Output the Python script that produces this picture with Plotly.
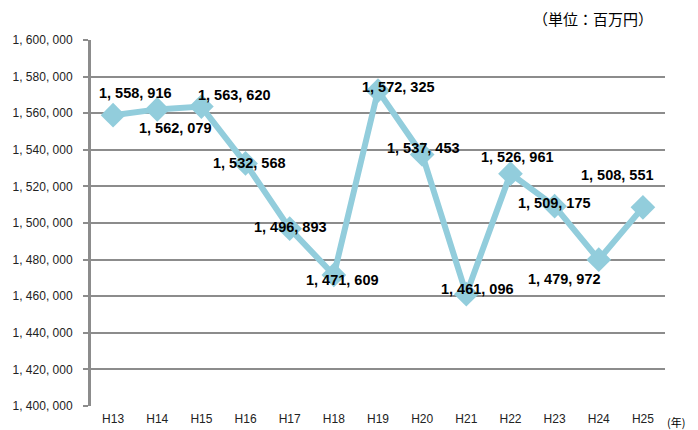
import plotly.graph_objects as go

years = ["H13", "H14", "H15", "H16", "H17", "H18", "H19",
         "H20", "H21", "H22", "H23", "H24", "H25"]
amounts = [1558916, 1562079, 1563620, 1532568, 1496893, 1471609, 1572325,
           1537453, 1461096, 1526961, 1509175, 1479972, 1508551]
tick_values = list(range(1400000, 1600001, 20000))

# label placement offsets (px) relative to each point
label_offsets = [(22, -22), (18, 19), (33, -12), (4, 0), (1, -2), (9, 5), (20, -4),
                 (1, -6), (11, -5), (7, -17), (0, -3), (-34, 19), (-25, -32)]


def _fmt(v):
    return f"{v:,}".replace(",", ", ")


LINE_COLOR = "#92CDDC"
GRID_COLOR = "#8C8C8C"
FONT = "Liberation Sans, Arial, sans-serif"
CJK_FONT = "Noto Sans CJK JP"

fig = go.Figure(
    go.Scatter(
        x=years,
        y=amounts,
        mode="lines+markers",
        line={"color": LINE_COLOR, "width": 6},
        marker={"symbol": "diamond", "size": 19, "color": LINE_COLOR},
        showlegend=False,
    )
)

for year, amount, (dx, dy) in zip(years, amounts, label_offsets):
    fig.add_annotation(
        x=year, y=amount, text=f"<b>{_fmt(amount)}</b>",
        showarrow=False, xshift=dx, yshift=-dy,
        font={"family": FONT, "size": 14.5, "color": "#000000"},
    )

fig.add_annotation(
    xref="paper", yref="paper", x=1.0, y=1.0, xshift=-10, yshift=22,
    xanchor="right", yanchor="middle", text="（単位：百万円）", showarrow=False,
    font={"family": CJK_FONT, "size": 15, "color": "#000000"},
)
fig.add_annotation(
    xref="paper", yref="paper", x=1.0, y=0, xshift=0, yshift=-6,
    xanchor="left", yanchor="top", text="(年)", showarrow=False,
    font={"family": CJK_FONT, "size": 11, "color": "#000000"},
)

# the page body adds an 8px offset, so margins are set 8px smaller
fig.update_layout(
    width=698,
    height=430,
    margin={"t": 32, "r": 41, "b": 32, "l": 83},
    paper_bgcolor="#FFFFFF",
    plot_bgcolor="#FFFFFF",
    font={"family": FONT, "size": 12, "color": "#222222"},
    xaxis={
        "type": "category",
        "range": [-0.5, 12.5],
        "showgrid": False,
        "showline": False,
        "ticks": "",
        "ticklabelstandoff": 4,
        "automargin": False,
        "tickfont": {"size": 12},
    },
    yaxis={
        "range": [1400000, 1600000],
        "tickvals": tick_values,
        "ticktext": [_fmt(v) for v in tick_values],
        "showgrid": True,
        "gridcolor": GRID_COLOR,
        "gridwidth": 2,
        "showline": True,
        "linecolor": GRID_COLOR,
        "linewidth": 3,
        "ticks": "outside",
        "ticklen": 5,
        "tickwidth": 2,
        "tickcolor": GRID_COLOR,
        "ticklabelstandoff": 8,
        "automargin": False,
        "zeroline": False,
        "tickfont": {"size": 12},
    },
)

fig.write_html("out.html")
